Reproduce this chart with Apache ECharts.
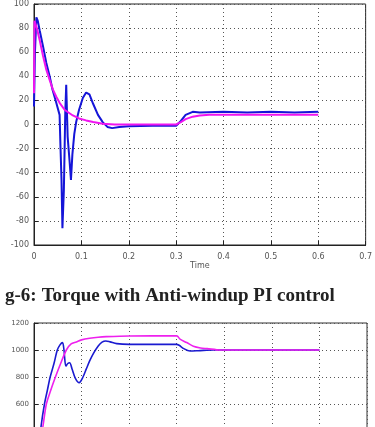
<!DOCTYPE html>
<html>
<head>
<meta charset="utf-8">
<script src="https://cdn.jsdelivr.net/npm/echarts@6/dist/echarts.min.js"></script>
<style>
  html, body { margin: 0; padding: 0; background: #fff; overflow: hidden; height: 427px; }
  #chart { width: 375px; height: 490px; }
</style>
</head>
<body>
<div id="chart"></div>
<script>
// torque plot (top), time in s
const torqueActualT = [0, 0.002, 0.005, 0.008, 0.012, 0.019, 0.026, 0.033, 0.039, 0.047, 0.054, 0.056, 0.058, 0.060, 0.063, 0.066, 0.068, 0.071, 0.075, 0.078, 0.081, 0.085, 0.089, 0.095, 0.103, 0.110, 0.117, 0.125, 0.135, 0.145, 0.155, 0.165, 0.180, 0.200, 0.250, 0.300, 0.310, 0.320, 0.335, 0.350, 0.400, 0.450, 0.500, 0.550, 0.600]
const torqueActual = [15, 60, 89, 86, 78, 65, 51, 40, 29, 18, 8, -20, -45, -86, -55, 10, 33, -10, -30, -46, -25, -8, 2, 12, 22, 26.5, 25, 17, 8, 2, -2, -3, -2, -1.5, -1, -1, 3, 8, 10.5, 10, 10.5, 10, 10.5, 10, 10.5]

const torqueRefT = [0, 0.001, 0.006, 0.012, 0.019, 0.026, 0.033, 0.040, 0.047, 0.054, 0.065, 0.082, 0.095, 0.110, 0.125, 0.145, 0.170, 0.300, 0.310, 0.320, 0.335, 0.350, 0.370, 0.600]
const torqueRef = [26, 86, 80, 70, 57, 45.5, 37, 29, 23, 18, 12, 7.5, 5, 3.4, 2, 0.7, 0, 0, 2, 4.5, 6.5, 7.5, 8, 8]

// speed plot (bottom, cropped by the page edge)
const speedActualT = [0, 0.005, 0.010, 0.015, 0.022, 0.028, 0.034, 0.042, 0.049, 0.055, 0.060, 0.063, 0.067, 0.071, 0.075, 0.080, 0.087, 0.095, 0.103, 0.110, 0.117, 0.125, 0.135, 0.143, 0.151, 0.160, 0.174, 0.200, 0.300, 0.305, 0.315, 0.328, 0.345, 0.377, 0.600]
const speedActual = [0, 100, 260, 439, 600, 700, 800, 900, 1000, 1040, 1055, 1000, 881, 900, 906, 860, 790, 758, 800, 860, 919, 975, 1030, 1058, 1067, 1060, 1047, 1042, 1042, 1035, 1010, 993, 995, 1000, 1000]

const speedRefT = [0, 0.005, 0.010, 0.015, 0.019, 0.026, 0.035, 0.045, 0.056, 0.068, 0.078, 0.089, 0.100, 0.117, 0.135, 0.152, 0.200, 0.300, 0.307, 0.321, 0.335, 0.350, 0.364, 0.392, 0.600]
const speedRef = [0, 110, 230, 350, 439, 600, 700, 800, 900, 1000, 1045, 1060, 1075, 1087, 1095, 1099, 1104, 1105, 1080, 1055, 1028, 1015, 1010, 1000, 1000]

const zip = (t, v) => t.map((x, i) => [x, v[i]])

const gridLine = { show: true, lineStyle: { color: '#555', type: [1, 3], width: 1 } }
const lbl = { color: '#555', fontSize: 8, fontFamily: 'DejaVu Sans' }

const chart = echarts.init(document.getElementById('chart'), null, { renderer: 'canvas' })
chart.setOption({
  backgroundColor: '#fff',
  animation: false,
  title: {
    left: 0, top: 282,
    text: '{b|g-6:} {n|Torque with Anti-windup PI control}',
    textStyle: {
      rich: {
        b: { fontFamily: 'Liberation Serif', fontWeight: 'bold', fontSize: 19, color: '#222' },
        n: { fontFamily: 'Liberation Serif', fontSize: 19, color: '#222' },
      },
    },
  },
  grid: [
    { left: 34, right: 9, top: 0, height: 245, show: true, borderColor: '#222', borderWidth: 1 },
    { left: 34, right: 8, top: 323, height: 162, show: true, borderColor: '#333', borderWidth: 1 },
  ],
  xAxis: [
    {
      gridIndex: 0, type: 'value', min: 0, max: 0.7, interval: 0.1,
      name: 'Time', nameLocation: 'middle', nameGap: 17,
      nameTextStyle: { color: '#555', fontSize: 8, fontFamily: 'DejaVu Sans' },
      axisLine: { onZero: false, lineStyle: { color: '#222' } },
      axisTick: { inside: true, length: 4, lineStyle: { color: '#222' } },
      axisLabel: lbl,
      splitLine: gridLine,
    },
    {
      gridIndex: 1, type: 'value', min: 0, max: 0.7, interval: 0.1,
      axisLine: { onZero: false, lineStyle: { color: '#222' } },
      axisTick: { inside: true, length: 4 },
      axisLabel: { show: false },
      splitLine: gridLine,
    },
  ],
  yAxis: [
    {
      gridIndex: 0, type: 'value', min: -100, max: 100, interval: 20,
      axisLine: { show: true, onZero: false, lineStyle: { color: '#222' } },
      axisTick: { inside: true, length: 4, lineStyle: { color: '#222' } },
      axisLabel: Object.assign({ margin: 5 }, lbl),
      splitLine: gridLine,
    },
    {
      gridIndex: 1, type: 'value', min: 0, max: 1200, interval: 200,
      axisLine: { show: true, onZero: false, lineStyle: { color: '#222' } },
      axisTick: { inside: true, length: 4 },
      axisLabel: Object.assign({ margin: 5, formatter: v => String(v) }, lbl, { fontSize: 7 }),
      splitLine: gridLine,
    },
  ],
  series: [
    {
      name: 'torque', type: 'line', xAxisIndex: 0, yAxisIndex: 0,
      data: zip(torqueActualT, torqueActual), showSymbol: false,
      lineStyle: { color: '#1515d8', width: 2 }, z: 3,
    },
    {
      name: 'torque ref', type: 'line', xAxisIndex: 0, yAxisIndex: 0,
      data: zip(torqueRefT, torqueRef), showSymbol: false,
      lineStyle: { color: '#f014f0', width: 2 }, z: 4,
    },
    {
      name: 'speed', type: 'line', xAxisIndex: 1, yAxisIndex: 1, smooth: 0.3,
      data: zip(speedActualT, speedActual), showSymbol: false,
      lineStyle: { color: '#1a1ad0', width: 1.6 }, z: 3,
    },
    {
      name: 'speed ref', type: 'line', xAxisIndex: 1, yAxisIndex: 1, smooth: 0.3,
      data: zip(speedRefT, speedRef), showSymbol: false,
      lineStyle: { color: '#ee20ee', width: 1.6 }, z: 4,
    },
  ],
})
</script>
</body>
</html>
